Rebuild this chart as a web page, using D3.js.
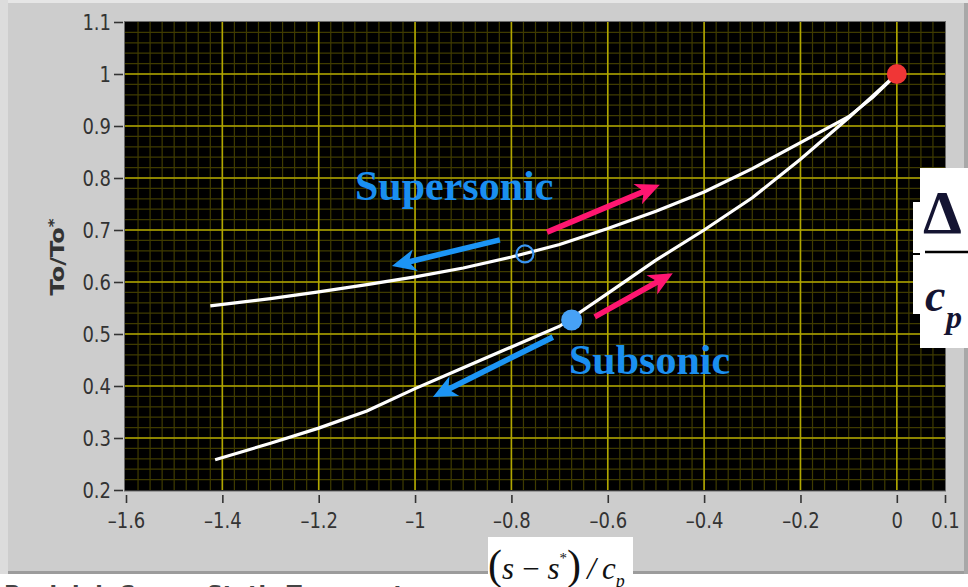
<!DOCTYPE html>
<html>
<head>
<meta charset="utf-8">
<script src="https://cdn.jsdelivr.net/npm/d3@7"></script>
<style>
  html, body { margin: 0; padding: 0; background: #ffffff; }
  svg { display: block; }
</style>
</head>
<body>
<svg id="chart" width="968" height="587"></svg>
<script>
// Rayleigh line: stagnation temperature ratio vs. entropy change
const xTicks = [-1.6, -1.4, -1.2, -1, -0.8, -0.6, -0.4, -0.2, 0, 0.1];
const yTicks = [0.2, 0.3, 0.4, 0.5, 0.6, 0.7, 0.8, 0.9, 1, 1.1];

// supersonic branch (upper)
const superS = [-1.425, -1.3, -1.2, -1.1, -1.0, -0.9, -0.8, -0.7, -0.6, -0.5, -0.4, -0.3, -0.2, -0.1, -0.05, 0];
const superT = [0.554, 0.568, 0.581, 0.595, 0.610, 0.627, 0.648, 0.672, 0.703, 0.736, 0.773, 0.818, 0.868, 0.918, 0.955, 1.0];

// subsonic branch (lower)
const subS = [-1.415, -1.3, -1.2, -1.1, -1.0, -0.9, -0.8, -0.7, -0.6, -0.5, -0.4, -0.3, -0.2, -0.1, -0.05, 0];
const subT = [0.258, 0.290, 0.319, 0.352, 0.395, 0.435, 0.475, 0.515, 0.578, 0.642, 0.700, 0.762, 0.836, 0.916, 0.958, 1.0];

// marked states
const sonicPoint = [0, 1.0];
const superPoint = [-0.772, 0.654];
const subPoint = [-0.675, 0.527];

// direction arrows [s0, t0, s1, t1] (tail -> tip)
const heatingArrows = [[-0.726, 0.696, -0.492, 0.787], [-0.627, 0.533, -0.465, 0.617]];
const coolingArrows = [[-0.824, 0.681, -1.048, 0.631], [-0.714, 0.494, -0.963, 0.379]];

const svg = d3.select("#chart");

const x = d3.scaleLinear().domain([-1.6, 0.1]).range([126, 945]);
const y = d3.scaleLinear().domain([0.2, 1.1]).range([490, 22]);

// panel background
svg.append("rect").attr("x", 0).attr("y", 0).attr("width", 968).attr("height", 574).attr("fill", "#cdcdcd");
svg.append("rect").attr("x", 0).attr("y", 0).attr("width", 968).attr("height", 3).attr("fill", "#e6e6e6");
svg.append("rect").attr("x", 0).attr("y", 0).attr("width", 8).attr("height", 574).attr("fill", "#dcdcdc");
svg.append("rect").attr("x", 8).attr("y", 571).attr("width", 960).attr("height", 3).attr("fill", "#9c9c9c");
svg.append("rect").attr("x", 964).attr("y", 3).attr("width", 4).attr("height", 571).attr("fill", "#a8a8a8");

// plot area
svg.append("rect")
  .attr("x", 124.5).attr("y", 21.5).attr("width", 821).attr("height", 469.5)
  .attr("fill", "#000").attr("stroke", "#6a6a6a").attr("stroke-width", 1);

const grid = svg.append("g");
const minorX = d3.range(0, 69).map(i => -1.6 + i * 0.025).filter(v => v > -1.599 && v < 0.099);
const minorY = d3.range(0, 46).map(i => 0.2 + i * 0.02).filter(v => v > 0.201 && v < 1.099);
grid.selectAll(".mx").data(minorX).join("line")
  .attr("class", "mx")
  .attr("x1", d => x(d)).attr("x2", d => x(d)).attr("y1", 22).attr("y2", 490)
  .attr("stroke", "#3f3b00").attr("stroke-width", 1.2);
grid.selectAll(".my").data(minorY).join("line")
  .attr("class", "my")
  .attr("x1", 125).attr("x2", 945).attr("y1", d => y(d)).attr("y2", d => y(d))
  .attr("stroke", "#3f3b00").attr("stroke-width", 1.2);
const majorX = xTicks.filter(v => v > -1.59 && v < 0.05);
const majorY = yTicks.filter(v => v > 0.21 && v < 1.09);
grid.selectAll(".MX").data(majorX).join("line")
  .attr("class", "MX")
  .attr("x1", d => x(d)).attr("x2", d => x(d)).attr("y1", 22).attr("y2", 490)
  .attr("stroke", "#b0a600").attr("stroke-width", 1.6);
grid.selectAll(".MY").data(majorY).join("line")
  .attr("class", "MY")
  .attr("x1", 125).attr("x2", 945).attr("y1", d => y(d)).attr("y2", d => y(d))
  .attr("stroke", "#b0a600").attr("stroke-width", 1.6);

// axes
const fmt = d => String(d).replace("-", "\u2013");
const yAxis = svg.append("g").attr("transform", "translate(123,0)")
  .call(d3.axisLeft(y).tickValues(yTicks).tickSize(9).tickFormat(fmt));
const xAxis = svg.append("g").attr("transform", "translate(0,495)")
  .call(d3.axisBottom(x).tickValues(xTicks).tickSize(8).tickFormat(fmt));
[yAxis, xAxis].forEach(g => {
  g.select(".domain").remove();
  g.selectAll(".tick line").attr("stroke", "#333").attr("stroke-width", 1.6);
  g.selectAll(".tick text")
    .attr("fill", "#333")
    .attr("font-family", "'DejaVu Sans', sans-serif")
    .attr("font-size", 18);
});
yAxis.selectAll(".tick text").attr("x", 0).attr("dy", "0.36em")
  .attr("transform", "translate(-12,0) scale(1,1.2)");
xAxis.selectAll(".tick text").attr("y", 0).attr("dy", "0.36em")
  .attr("transform", "translate(0,25) scale(1,1.2)");

// y-axis title
const yt = svg.append("text")
  .attr("transform", "translate(64,257) rotate(-90) scale(1.2,1)")
  .attr("text-anchor", "middle")
  .attr("font-family", "'DejaVu Sans', sans-serif")
  .attr("font-weight", "bold").attr("font-size", 20).attr("fill", "#333");
yt.append("tspan").text("To/To");
yt.append("tspan").attr("dy", "-0.45em").attr("font-size", 14).text("*");

// curves
const line = d3.line().x(d => x(d[0])).y(d => y(d[1]));
svg.append("path").datum(superS.map((s, i) => [s, superT[i]]))
  .attr("d", line).attr("fill", "none").attr("stroke", "#fff").attr("stroke-width", 3.2);
svg.append("path").datum(subS.map((s, i) => [s, subT[i]]))
  .attr("d", line).attr("fill", "none").attr("stroke", "#fff").attr("stroke-width", 3.2);

// arrows
function arrowPath(a) {
  const x0 = x(a[0]), y0 = y(a[1]), x1 = x(a[2]), y1 = y(a[3]);
  const len = Math.hypot(x1 - x0, y1 - y0);
  const ux = (x1 - x0) / len, uy = (y1 - y0) / len;
  const vx = -uy, vy = ux;
  const w = 2.8, L = 24, H = 11, n = 5;
  const bx = x1 - ux * (L - n), by = y1 - uy * (L - n);
  const hx = x1 - ux * L, hy = y1 - uy * L;
  const p = [
    [x0 + vx * w, y0 + vy * w], [bx + vx * w, by + vy * w], [hx + vx * H, hy + vy * H],
    [x1, y1], [hx - vx * H, hy - vy * H], [bx - vx * w, by - vy * w], [x0 - vx * w, y0 - vy * w]
  ];
  return "M" + p.map(q => q.join(",")).join("L") + "Z";
}
svg.selectAll(".heat").data(heatingArrows).join("path")
  .attr("class", "heat").attr("d", arrowPath).attr("fill", "#ff1670");
svg.selectAll(".cool").data(coolingArrows).join("path")
  .attr("class", "cool").attr("d", arrowPath).attr("fill", "#1c95f5");

// state markers
svg.append("circle").attr("cx", x(sonicPoint[0])).attr("cy", y(sonicPoint[1])).attr("r", 10).attr("fill", "#f03636");
svg.append("circle").attr("cx", x(superPoint[0])).attr("cy", y(superPoint[1])).attr("r", 8.5)
  .attr("fill", "none").attr("stroke", "#3a95f2").attr("stroke-width", 2.2);
svg.append("circle").attr("cx", x(subPoint[0])).attr("cy", y(subPoint[1])).attr("r", 10.5).attr("fill", "#47a1f6");

// branch labels
svg.append("text").attr("x", 355).attr("y", 200)
  .attr("font-family", "'Liberation Serif', serif").attr("font-weight", "bold")
  .attr("font-size", 42).attr("fill", "#1a8ff0").text("Supersonic");
svg.append("text").attr("x", 569).attr("y", 374)
  .attr("font-family", "'Liberation Serif', serif").attr("font-weight", "bold")
  .attr("font-size", 42).attr("fill", "#1a8ff0").text("Subsonic");

// caption below the panel (mostly below the visible area)
svg.append("text").attr("x", 4).attr("y", 601)
  .attr("font-family", "'DejaVu Sans', sans-serif").attr("font-weight", "bold")
  .attr("font-size", 22).attr("fill", "#444")
  .text("Rayleigh Curve: Static Temperature vs. Entropy");

// entropy axis formula
svg.append("rect").attr("x", 488).attr("y", 537).attr("width", 145).attr("height", 50).attr("fill", "#fff");
const f = svg.append("text").attr("x", 488).attr("y", 579)
  .attr("font-family", "'Liberation Serif', serif").attr("fill", "#111");
f.append("tspan").attr("font-size", 42).text("(");
f.append("tspan").attr("font-size", 31).attr("font-style", "italic").text("s\u2009\u2212\u2009s");
f.append("tspan").attr("font-size", 15).attr("dy", -16).text("*");
f.append("tspan").attr("font-size", 42).attr("dy", 16).text(")");
f.append("tspan").attr("font-size", 31).attr("font-style", "italic").text("\u2009/\u2009c");
f.append("tspan").attr("font-size", 18).attr("font-style", "italic").attr("dy", 8).text("p");

// Δs / c_p formula at the right edge
svg.append("rect").attr("x", 913).attr("y", 202).attr("width", 10).attr("height", 112).attr("fill", "#fff");
svg.append("line").attr("x1", 913).attr("x2", 921).attr("y1", 254).attr("y2", 254).attr("stroke", "#000").attr("stroke-width", 2);
svg.append("rect").attr("x", 920).attr("y", 168).attr("width", 48).attr("height", 180).attr("fill", "#fff");
svg.append("text").attr("x", 923).attr("y", 233)
  .attr("font-family", "'Liberation Serif', serif").attr("font-weight", "bold")
  .attr("font-size", 62).attr("fill", "#141432").text("\u0394");
svg.append("line").attr("x1", 925).attr("x2", 968).attr("y1", 252).attr("y2", 252).attr("stroke", "#000").attr("stroke-width", 2.5);
svg.append("text").attr("x", 925).attr("y", 311)
  .attr("font-family", "'Liberation Serif', serif").attr("font-weight", "bold").attr("font-style", "italic")
  .attr("font-size", 46).attr("fill", "#141432").text("c");
svg.append("text").attr("x", 946).attr("y", 328)
  .attr("font-family", "'Liberation Serif', serif").attr("font-weight", "bold").attr("font-style", "italic")
  .attr("font-size", 32).attr("fill", "#141432").text("p");
</script>
</body>
</html>
